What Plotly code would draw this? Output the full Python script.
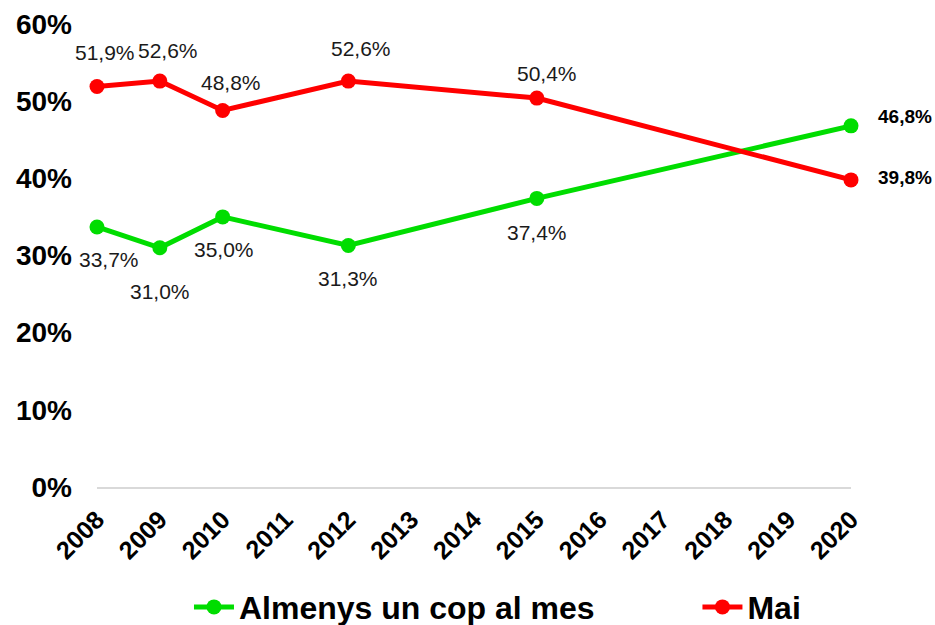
import plotly.graph_objects as go

years = [2008, 2009, 2010, 2012, 2015, 2020]
tick_years = list(range(2008, 2021))
almenys = [33.7, 31.0, 35.0, 31.3, 37.4, 46.8]
mai = [51.9, 52.6, 48.8, 52.6, 50.4, 39.8]
series_names = ["Almenys un cop al mes", "Mai"]

GREEN = "#00dd00"
RED = "#ff0000"
FONT = "Liberation Sans, Arial, sans-serif"

def fmt(v):
    return f"{v:.1f}%".replace(".", ",")

fig = go.Figure()
pads = ["\u00a0" * 11, ""]
for name, vals, col, pad in [(series_names[0], almenys, GREEN, pads[0]),
                             (series_names[1], mai, RED, pads[1])]:
    fig.add_trace(go.Scatter(
        x=years, y=vals, name="<b>" + name + "</b>" + pad, mode="lines+markers",
        line=dict(color=col, width=5),
        marker=dict(color=col, size=15),
        cliponaxis=False,
    ))

# label offsets (pixels) for each point
g_shift = [(12, -33), (0, -44), (1, -33), (0, -33), (0, -34), (None, None)]
r_shift = [(8, 34), (8, 31), (8, 28), (13, 33), (10, 25), (None, None)]

anns = []
for i, (x, v) in enumerate(zip(years, almenys)):
    dx, dy = g_shift[i]
    if dx is None:
        anns.append(dict(x=x, y=v, text="<b>" + fmt(v) + "</b>", showarrow=False,
                         xanchor="left", xshift=25, yshift=9,
                         font=dict(family=FONT, size=19, color="#000")))
    else:
        anns.append(dict(x=x, y=v, text=fmt(v), showarrow=False, xshift=dx, yshift=dy,
                         font=dict(family=FONT, size=21, color="#1a1a1a")))
for i, (x, v) in enumerate(zip(years, mai)):
    dx, dy = r_shift[i]
    if dx is None:
        anns.append(dict(x=x, y=v, text="<b>" + fmt(v) + "</b>", showarrow=False,
                         xanchor="left", xshift=25, yshift=2,
                         font=dict(family=FONT, size=19, color="#000")))
    else:
        anns.append(dict(x=x, y=v, text=fmt(v), showarrow=False, xshift=dx, yshift=dy,
                         font=dict(family=FONT, size=21, color="#1a1a1a")))

fig.update_layout(
    width=935, height=625,
    paper_bgcolor="white", plot_bgcolor="white",
    margin=dict(l=97, r=84, t=24, b=138, autoexpand=False),
    font=dict(family=FONT, color="#000"),
    annotations=anns,
    showlegend=True,
    legend=dict(orientation="h", x=0.122, xanchor="left", xref="paper",
                y=-0.2, yanchor="top",
                font=dict(family=FONT, size=32, color="#000"),
                itemwidth=40),
    xaxis=dict(
        range=[2008, 2020], tickmode="array", tickvals=tick_years,
        ticktext=[f"<b>{y}</b>" for y in tick_years],
        tickangle=-45, tickfont=dict(family=FONT, size=25, color="#000"),
        showgrid=False, zeroline=False, showline=True, linecolor="#d9d9d9", linewidth=2,
        ticks="", ticklabelstandoff=6, automargin=False,
    ),
    yaxis=dict(
        range=[0, 60], tickmode="array", tickvals=[0, 10, 20, 30, 40, 50, 60],
        ticktext=[f"<b>{v}%</b>" for v in [0, 10, 20, 30, 40, 50, 60]],
        tickfont=dict(family=FONT, size=28, color="#000"),
        showgrid=False, zeroline=False, showline=False, ticks="",
        ticklabelstandoff=24, automargin=False,
    ),
)

fig.write_html("out.html", config={"displayModeBar": False},
               post_script="document.body.style.margin='0';document.body.style.overflow='hidden';")
